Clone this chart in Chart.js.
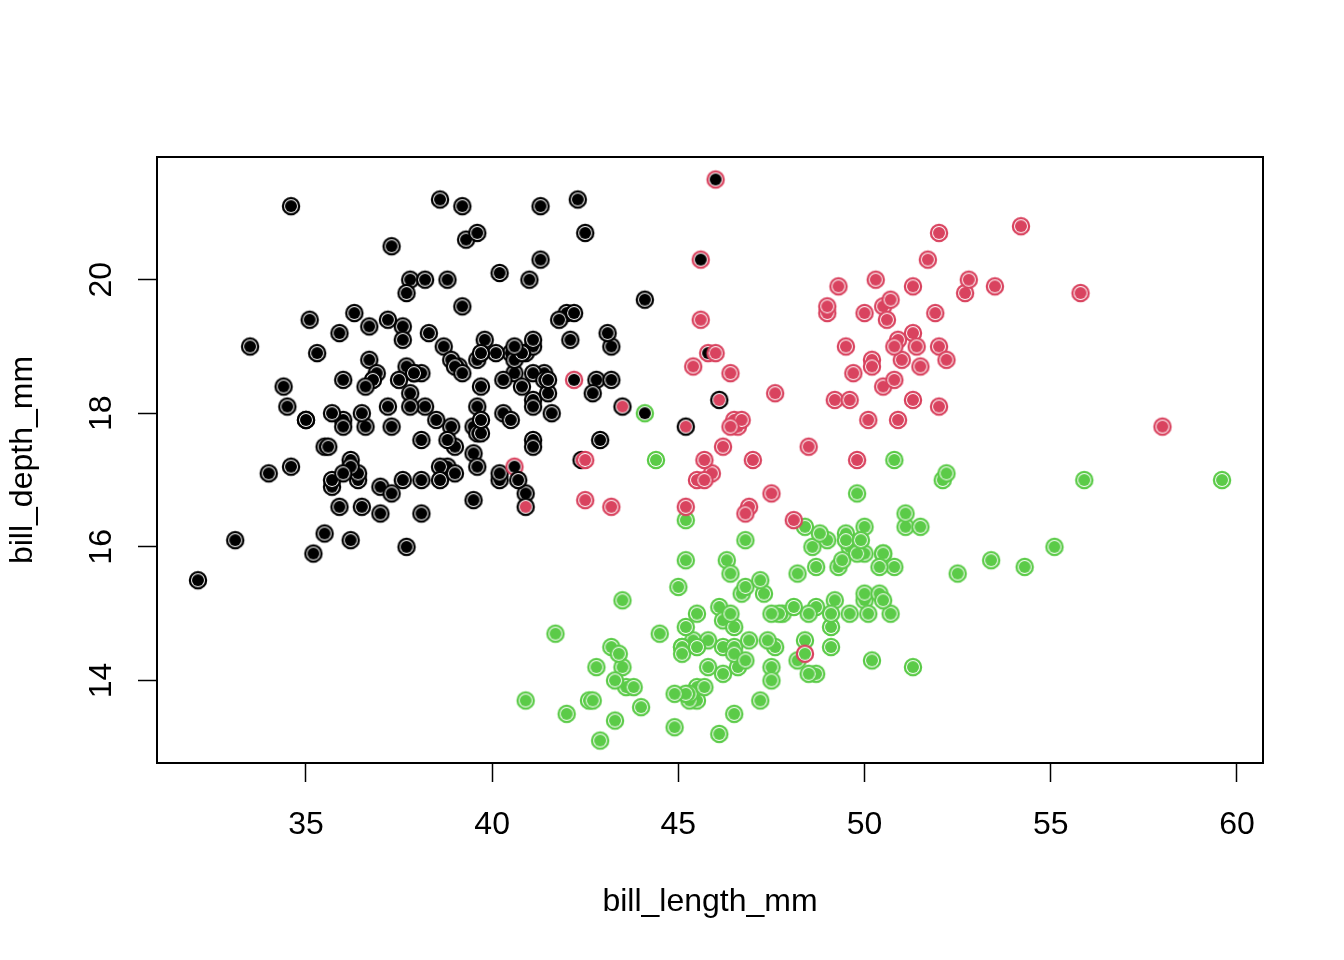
<!DOCTYPE html>
<html>
<head>
<meta charset="utf-8">
<script src="https://cdn.jsdelivr.net/npm/chart.js@4.4.1/dist/chart.umd.min.js"></script>
<style>
  html, body { margin: 0; background: #fff; }
  canvas { display: block; }
</style>
</head>
<body>
<canvas id="myChart" width="1344" height="960"></canvas>
<script>
// penguins, rows with missing values dropped, in data order
var adelieLength = [39.1,39.5,40.3,36.7,39.3,38.9,39.2,41.1,38.6,34.6,36.6,38.7,42.5,34.4,46.0,
  37.8,37.7,35.9,38.2,38.8,35.3,40.6,40.5,37.9,40.5,
  39.5,37.2,39.5,40.9,36.4,39.2,38.8,42.2,37.6,39.8,36.5,40.8,36.0,44.1,37.0,39.6,41.1,36.0,42.3,
  39.6,40.1,35.0,42.0,34.5,41.4,39.0,40.6,36.5,37.6,35.7,41.3,37.6,41.1,36.4,41.6,35.5,41.1,
  35.9,41.8,33.5,39.7,39.6,45.8,35.5,42.8,40.9,37.2,36.2,42.1,34.6,42.9,36.7,35.1,
  37.3,41.3,36.3,36.9,38.3,38.9,35.7,41.1,34.0,39.6,36.2,40.8,38.1,40.3,33.1,43.2,
  35.0,41.0,37.7,37.8,37.9,39.7,38.6,38.2,38.1,43.2,38.1,45.6,39.7,42.2,39.6,42.7,
  38.6,37.3,35.7,41.1,36.2,37.7,40.2,41.4,35.2,40.6,38.8,41.5,39.0,44.1,38.5,43.1,
  36.8,37.5,38.1,41.1,35.6,40.2,37.0,39.7,40.2,40.6,32.1,40.7,37.3,39.0,39.2,36.6,36.0,37.8,36.0,41.5];
var adelieDepth = [18.7,17.4,18.0,19.3,20.6,17.8,19.6,17.6,21.2,21.1,17.8,19.0,20.7,18.4,21.5,
  18.3,18.7,19.2,18.1,17.2,18.9,18.6,17.9,18.6,18.9,
  16.7,18.1,17.8,18.9,17.0,21.1,20.0,18.5,19.3,19.1,18.0,18.4,18.5,19.7,16.9,18.8,19.0,17.9,21.2,
  17.7,18.9,17.9,19.5,18.1,18.6,17.5,18.8,16.6,19.1,16.9,21.1,17.0,18.2,17.1,18.0,16.2,19.1,
  16.6,19.4,19.0,18.4,17.2,18.9,17.5,18.5,16.8,19.4,16.1,19.1,17.2,17.6,18.8,19.4,
  17.8,20.3,19.5,18.6,19.2,18.8,18.0,18.1,17.1,18.1,17.3,18.9,18.6,18.5,16.1,18.5,
  17.9,20.0,16.0,20.0,18.6,18.9,17.2,20.0,17.0,19.0,16.5,20.3,17.7,19.5,20.7,18.3,
  17.0,20.5,17.0,18.6,17.2,19.8,17.0,18.5,15.9,19.0,17.6,18.3,17.1,18.0,17.9,19.2,
  18.5,18.5,17.6,17.5,17.5,20.1,16.5,17.9,17.1,17.2,15.5,17.0,16.8,18.7,18.6,18.4,17.8,18.1,17.1,18.5];

var gentooLength = [46.1,50.0,48.7,50.0,47.6,46.5,45.4,46.7,43.3,46.8,40.9,49.0,45.5,48.4,45.8,49.3,
  42.0,49.2,46.2,48.7,50.2,45.1,46.5,46.3,42.9,46.1,47.8,48.2,50.0,47.3,42.8,45.1,59.6,49.1,
  48.4,42.6,44.4,44.0,48.7,42.7,49.6,45.3,49.6,50.5,43.6,45.5,50.5,44.9,45.2,46.6,48.5,45.1,
  50.1,46.5,45.0,43.8,45.5,43.2,50.4,45.3,46.2,45.7,54.3,45.8,49.8,49.5,43.5,50.7,47.7,46.4,
  48.2,46.5,46.4,48.6,47.5,51.1,45.2,45.2,49.1,52.5,47.4,50.0,44.9,50.8,43.4,51.3,47.5,52.1,
  47.5,52.2,45.5,49.5,44.5,50.8,49.4,46.9,48.4,51.1,48.5,55.9,47.2,49.1,46.8,41.7,53.4,43.3,
  48.1,50.5,49.8,43.5,51.5,46.2,55.1,48.8,47.2,46.8,50.4,45.2,49.9];
var gentooDepth = [13.2,16.3,14.1,15.2,14.5,13.5,14.6,15.3,13.4,15.4,13.7,16.1,13.7,14.6,14.6,15.7,
  13.5,15.2,14.5,15.1,14.3,14.5,14.5,15.8,13.1,15.1,15.0,14.3,15.3,15.3,14.2,14.5,17.0,14.8,
  16.3,13.7,17.3,13.6,15.7,13.7,16.0,13.7,15.0,15.9,13.9,13.9,15.9,13.3,15.8,14.2,14.1,14.4,
  15.0,14.4,15.4,13.9,15.0,14.5,15.3,13.8,14.9,13.9,15.7,14.2,16.8,16.2,14.2,15.0,15.0,15.6,
  15.6,14.8,15.0,16.0,14.2,16.3,13.8,16.4,14.5,15.6,14.6,15.9,13.8,17.3,14.4,14.2,14.0,17.0,
  15.0,17.1,14.5,16.1,14.7,15.7,15.8,14.6,14.4,16.5,15.0,17.0,15.5,15.0,16.1,14.7,15.8,14.0,
  15.1,15.2,15.9,15.2,16.3,14.1,16.0,16.2,13.7,14.3,15.7,14.8,16.1];

var chinstrapLength = [46.5,50.0,51.3,45.4,52.7,45.2,46.1,51.3,46.0,51.3,46.6,51.7,47.0,52.0,45.9,
  50.5,50.3,58.0,46.4,49.2,42.4,48.5,43.2,50.6,46.7,52.0,50.5,49.5,46.4,52.8,40.9,54.2,42.5,
  51.0,49.7,47.5,47.6,52.0,46.9,53.5,49.0,46.2,50.9,45.5,50.9,50.8,50.1,49.0,51.5,49.8,48.1,
  51.4,45.7,50.7,42.5,52.2,45.2,49.3,50.2,45.6,51.9,46.8,45.7,55.8,43.5,49.6,50.8,50.2];
var chinstrapDepth = [17.9,19.5,19.2,18.7,19.8,17.8,18.2,18.2,18.9,19.9,17.8,20.3,17.3,18.1,17.1,
  19.6,20.0,17.8,18.6,18.2,17.3,17.5,16.6,19.4,17.9,19.0,18.4,19.0,17.8,20.0,16.6,20.8,16.7,
  18.8,18.6,16.8,18.3,20.7,16.6,19.9,19.5,17.5,19.1,17.0,17.9,18.5,17.9,19.6,18.7,17.3,16.4,
  19.0,17.3,19.7,17.3,18.8,16.6,19.9,18.8,19.4,19.5,16.5,17.0,19.8,18.1,18.2,19.0,18.7];

// points whose ring (predicted group) is not their own species
var ringOverrides = [
  ['Adelie', 46.0, 21.5, 'Chinstrap'],
  ['Adelie', 45.6, 20.3, 'Chinstrap'],
  ['Adelie', 45.8, 18.9, 'Chinstrap'],
  ['Adelie', 42.2, 18.5, 'Chinstrap'],
  ['Adelie', 40.6, 17.2, 'Chinstrap'],
  ['Adelie', 44.1, 18.0, 'Gentoo'],
  ['Chinstrap', 43.5, 18.1, 'Adelie'],
  ['Chinstrap', 46.1, 18.2, 'Adelie'],
  ['Chinstrap', 45.2, 17.8, 'Adelie'],
  ['Chinstrap', 42.4, 17.3, 'Adelie'],
  ['Chinstrap', 40.9, 16.6, 'Adelie'],
  ['Gentoo', 48.4, 14.4, 'Chinstrap']
];

var xTicks = [35, 40, 45, 50, 55, 60];
var yTicks = [14, 16, 18, 20];

var colors = { Adelie: '#000000', Chinstrap: '#D9435F', Gentoo: '#5BCB48' };
var font = "'Liberation Sans', Arial, Helvetica, sans-serif";

var points = [];
var groups = [
  ['Adelie', adelieLength, adelieDepth],
  ['Gentoo', gentooLength, gentooDepth],
  ['Chinstrap', chinstrapLength, chinstrapDepth]
];
groups.forEach(function (g) {
  for (var i = 0; i < g[1].length; i++) {
    var ring = g[0];
    ringOverrides.forEach(function (o) {
      if (o[0] === g[0] && o[1] === g[1][i] && o[2] === g[2][i]) ring = o[3];
    });
    points.push({ x: g[1][i], y: g[2][i], fill: g[0], ring: ring });
  }
});

// ring + white gap + filled disc, one small canvas per colour pair
var dots = {};
function dot(ring, fill) {
  var key = ring + '/' + fill;
  if (dots[key]) return dots[key];
  var c = document.createElement('canvas');
  c.width = 22; c.height = 22;
  var g = c.getContext('2d');
  g.beginPath(); g.arc(11, 11, 7.2, 0, Math.PI * 2); g.fillStyle = '#fff'; g.fill();
  g.beginPath(); g.arc(11, 11, 6, 0, Math.PI * 2); g.fillStyle = colors[fill]; g.fill();
  g.beginPath(); g.arc(11, 11, 8.1, 0, Math.PI * 2); g.strokeStyle = colors[ring]; g.lineWidth = 2.3; g.stroke();
  dots[key] = c;
  return c;
}

function padRange(vals) {
  var lo = Math.min.apply(null, vals), hi = Math.max.apply(null, vals);
  var d = (hi - lo) * 0.04;
  return [lo - d, hi + d];
}
var xr = padRange(points.map(function (p) { return p.x; }));
var yr = padRange(points.map(function (p) { return p.y; }));

var boxPlugin = {
  id: 'box',
  afterDatasetsDraw: function (chart) {
    var a = chart.chartArea, ctx = chart.ctx;
    ctx.save();
    ctx.strokeStyle = '#000';
    ctx.lineWidth = 2;
    ctx.strokeRect(a.left, a.top, a.right - a.left, a.bottom - a.top);
    ctx.restore();
  }
};

var ctx = document.getElementById('myChart');
var myChart = new Chart(ctx, {
  type: 'scatter',
  data: {
    datasets: [{
      data: points,
      pointRadius: 8,
      pointHoverRadius: 8,
      pointStyle: function (c) { return c.raw ? dot(c.raw.ring, c.raw.fill) : 'circle'; }
    }]
  },
  options: {
    responsive: false,
    animation: false,
    events: [],
    layout: { padding: { top: 157, right: 81, left: 0, bottom: 0 } },
    plugins: { legend: { display: false }, tooltip: { enabled: false } },
    scales: {
      x: {
        type: 'linear',
        min: xr[0],
        max: xr[1],
        afterBuildTicks: function (s) { s.ticks = xTicks.map(function (v) { return { value: v }; }); },
        afterFit: function (s) { s.height = 197; },
        border: { display: false },
        grid: { drawOnChartArea: false, drawTicks: true, tickLength: 19, tickColor: '#000', tickWidth: 1.5 },
        ticks: { color: '#000', font: { family: font, size: 32 }, padding: 24, maxRotation: 0 },
        title: { display: true, text: 'bill_length_mm', color: '#000', font: { family: font, size: 32 }, padding: { top: 0, bottom: 39 } }
      },
      y: {
        type: 'linear',
        min: yr[0],
        max: yr[1],
        afterBuildTicks: function (s) { s.ticks = yTicks.map(function (v) { return { value: v }; }); },
        afterFit: function (s) { s.width = 157; },
        border: { display: false },
        grid: { drawOnChartArea: false, drawTicks: true, tickLength: 19, tickColor: '#000', tickWidth: 1.5 },
        ticks: { color: '#000', font: { family: font, size: 32 }, padding: 18, minRotation: 90, maxRotation: 90, crossAlign: 'center' },
        title: { display: true, text: 'bill_depth_mm', color: '#000', font: { family: font, size: 32 }, padding: { top: 4, bottom: 0 } }
      }
    }
  },
  plugins: [boxPlugin]
});
</script>
</body>
</html>
